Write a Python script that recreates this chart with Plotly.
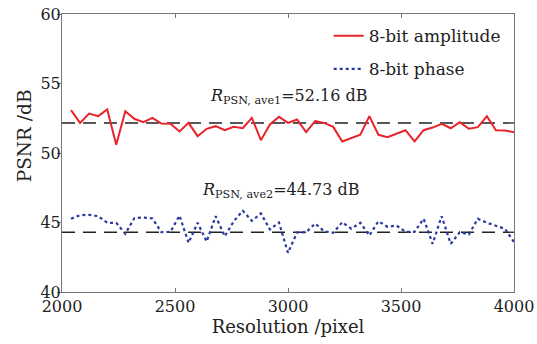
import plotly.graph_objects as go

resolution = [2040 + 40 * i for i in range(50)]
amp = [53.08, 52.17, 52.84, 52.65, 53.13, 50.59, 53.01, 52.46, 52.22, 52.53,
       52.12, 52.10, 51.55, 52.17, 51.21, 51.74, 51.93, 51.64, 51.88, 51.78,
       52.53, 50.92, 52.05, 52.60, 52.17,
       52.41, 51.50, 52.29, 52.17, 51.88, 50.83, 51.09, 51.31, 52.65, 51.31,
       51.14, 51.40, 51.64, 50.83, 51.64, 51.83, 52.10, 51.78, 52.22, 51.74,
       51.86, 52.65, 51.64, 51.62, 51.50]
phase = [45.27, 45.53, 45.55, 45.46, 44.98, 44.98, 44.19, 45.31, 45.36, 45.29,
         44.30, 44.33, 45.50, 43.54, 44.98, 43.63, 45.45, 44.01, 45.09, 45.84,
         45.12, 45.65, 44.50, 45.00, 42.82,
         44.28, 44.30, 44.92, 44.37, 44.26, 45.02, 44.55, 44.98, 44.07, 45.09,
         44.69, 44.78, 44.33, 44.33, 45.27, 43.47, 45.45, 43.47, 44.30, 44.14,
         45.27, 44.98, 44.78, 44.55, 43.58]
avg_amp_line = 52.16
avg_phase_line = 44.3
x_ticks = [2000, 2500, 3000, 3500, 4000]
y_ticks = [40, 45, 50, 55, 60]

font = "DejaVu Serif"
txt = "#222222"

fig = go.Figure()
fig.add_trace(go.Scatter(x=[2000, 4000], y=[avg_amp_line] * 2, mode="lines",
                         line=dict(color="#222222", width=1.3, dash="13px,8px"),
                         showlegend=False, hoverinfo="skip"))
fig.add_trace(go.Scatter(x=[2000, 4000], y=[avg_phase_line] * 2, mode="lines",
                         line=dict(color="#222222", width=1.3, dash="13px,8px"),
                         showlegend=False, hoverinfo="skip"))
fig.add_trace(go.Scatter(x=resolution, y=amp, mode="lines", name="8-bit amplitude",
                         legendgroup="a", line=dict(color="#e8242a", width=2)))
fig.add_trace(go.Scatter(x=resolution, y=phase, mode="lines", name="8-bit phase",
                         legendgroup="b", line=dict(color="#2a3a9f", width=2.2, dash="dot")))

fig.add_annotation(x=2646, y=54.05, xanchor="left", yanchor="middle", showarrow=False,
                   text="<i>R</i><sub>PSN, ave1</sub>=52.16 dB",
                   font=dict(family=font, size=16, color=txt))
fig.add_annotation(x=2611, y=47.3, xanchor="left", yanchor="middle", showarrow=False,
                   text="<i>R</i><sub>PSN, ave2</sub>=44.73 dB",
                   font=dict(family=font, size=16, color=txt))
fig.add_annotation(xref="paper", yref="paper", x=-0.083, y=0.562, textangle=-90,
                   showarrow=False, text="PSNR /dB", xanchor="center", yanchor="middle",
                   font=dict(family=font, size=18.5, color=txt))

fig.update_xaxes(range=[2000, 4000], tickvals=x_ticks, showgrid=False, zeroline=False,
                 showline=True, linecolor="#777", linewidth=1, mirror="ticks",
                 ticks="inside", ticklen=4, tickcolor="#777", automargin=False,
                 tickfont=dict(family=font, size=16, color=txt),
                 title=dict(text="Resolution /pixel", font=dict(family=font, size=18, color=txt), standoff=2))
fig.update_yaxes(range=[40, 60], tickvals=y_ticks, showgrid=False, zeroline=False,
                 showline=True, linecolor="#777", linewidth=1, mirror=True,
                 ticks="outside", ticklen=4, tickcolor="#777", automargin=False,
                 ticklabelstandoff=-7,
                 tickfont=dict(family=font, size=16, color=txt))

fig.update_layout(width=537, height=344, margin=dict(l=62, r=23, t=14, b=52),
                  paper_bgcolor="white", plot_bgcolor="white",
                  legend=dict(x=0.59, y=0.985, xanchor="left", yanchor="top",
                              bgcolor="rgba(255,255,255,0)", font=dict(family=font, size=17, color=txt),
                              tracegroupgap=8))
fig.write_html("out.html")
